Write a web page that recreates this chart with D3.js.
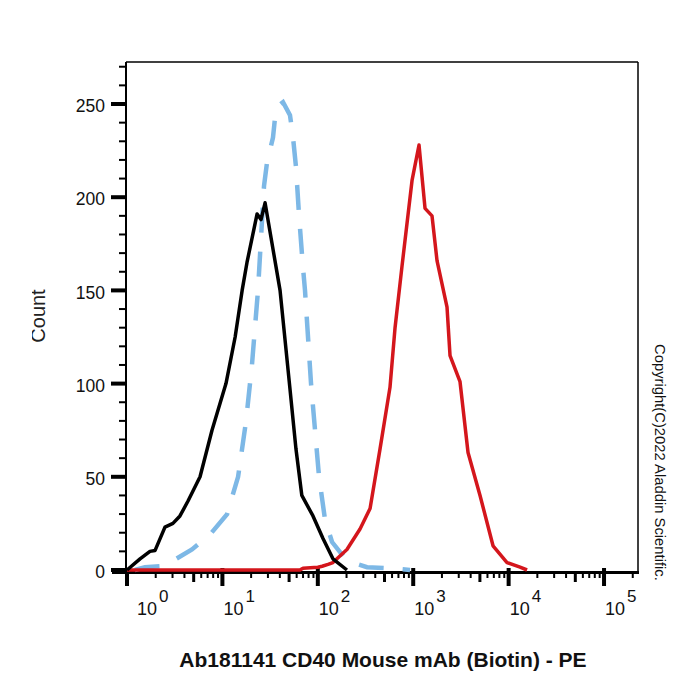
<!DOCTYPE html>
<html>
<head>
<meta charset="utf-8">
<script src="https://cdn.jsdelivr.net/npm/d3@7"></script>
<style>
  body { margin: 0; background: #fff; }
  svg { font-family: "Liberation Sans", Arial, sans-serif; }
</style>
</head>
<body>
<div id="chart"></div>
<script>
// histogram points: PE intensity and event count

// black solid line
const controlX = [1, 1.37, 1.74, 1.97, 2.5, 3.03, 3.59, 4.36, 5.83, 7.78, 10.9, 13.6, 16.1, 18.1, 23.1, 25.4, 28, 40.2, 51.1, 59, 68, 89, 113, 144, 202];
const controlCount = [0, 6, 10, 10.5, 23, 25, 29, 37, 50, 75, 100, 125, 150, 165, 191, 188, 197, 150, 97, 65, 40, 29, 17, 6, 0];

// light blue dashed line
const blankX = [1.21, 1.54, 2.22, 3.04, 4.8, 7.41, 11.2, 14.6, 17.7, 20.4, 23.6, 27.3, 29.4, 33.9, 36.5, 43.2, 51.1, 55, 59.1, 63.6, 70, 73.4, 84.9, 103, 119, 141, 202, 328, 571, 926];
const blankCount = [0, 1.5, 2, 5, 11, 19, 30, 50, 80, 110, 150, 206, 219, 232, 248, 251, 244, 232, 216, 190, 162, 150, 100, 50, 27, 15, 5, 1.5, 1, 0];

// red line, CD40 stained
const cd40X = [1, 65, 70, 100, 111, 128, 144, 202, 277, 353, 449, 571, 645, 763, 972, 1150, 1330, 1574, 1776, 2261, 2431, 3094, 3753, 5015, 6863, 9620, 13170, 15600];
const cd40Count = [0, 0, 1, 1.5, 2, 3, 4, 11, 22, 33, 65, 98, 130, 163, 209, 228, 194, 190, 166, 141, 115, 101, 63, 40, 13, 4, 1.5, 0];

// axis ticks
const xMajor = [1, 10, 100, 1000, 10000, 100000];
const yMajor = [0, 50, 100, 150, 200, 250];

const width = 700, height = 700;
const svg = d3.select('#chart').append('svg')
    .attr('width', width)
    .attr('height', height);

svg.append('rect').attr('width', width).attr('height', height).attr('fill', '#fff');

// scales
const x = d3.scaleLog().domain([1, 227000]).range([127, 638]);
const y = d3.scaleLinear().domain([0, 272]).range([570, 63]);

// minor ticks
const xMinor = [];
xMajor.forEach(d => {
    for (let m = 2; m <= 9; m++) {
        if (d * m <= x.domain()[1]) xMinor.push(d * m);
    }
});
const yMinor = d3.range(10, 271, 10).filter(v => v % 50 !== 0);

// frame
svg.append('line')
    .attr('x1', 126).attr('x2', 638).attr('y1', 62).attr('y2', 62)
    .attr('stroke', '#000').attr('stroke-width', 1.5);
svg.append('line')
    .attr('x1', 638).attr('x2', 638).attr('y1', 62).attr('y2', 573)
    .attr('stroke', '#000').attr('stroke-width', 1.5);

// axis lines
svg.append('line')
    .attr('x1', 112).attr('x2', 639).attr('y1', 572.5).attr('y2', 572.5)
    .attr('stroke', '#000').attr('stroke-width', 3);
svg.append('line')
    .attr('x1', 126).attr('x2', 126).attr('y1', 62).attr('y2', 586)
    .attr('stroke', '#000').attr('stroke-width', 2);

// x ticks
const fives = d => Math.round(d / Math.pow(10, Math.floor(Math.log10(d) + 1e-9))) === 5;
svg.append('g').selectAll('line')
    .data(xMinor)
    .join('line')
    .attr('x1', d => x(d)).attr('x2', d => x(d))
    .attr('y1', 572)
    .attr('y2', d => fives(d) ? 582 : 578)
    .attr('stroke', '#000')
    .attr('stroke-width', d => fives(d) ? 3 : 2);
svg.append('g').selectAll('line')
    .data(xMajor)
    .join('line')
    .attr('x1', d => x(d)).attr('x2', d => x(d))
    .attr('y1', 568).attr('y2', 586)
    .attr('stroke', '#000')
    .attr('stroke-width', 4);

// x tick labels 10^n
const xLab = svg.append('g').selectAll('text')
    .data(xMajor)
    .join('text')
    .attr('x', (d, i) => x(d) + (i === 0 ? 10 : 1))
    .attr('y', 615)
    .attr('font-size', 18)
    .attr('fill', '#111');
xLab.append('tspan').text('10');
xLab.append('tspan')
    .attr('dx', 2).attr('dy', -13)
    .attr('font-size', 17)
    .text(d => Math.round(Math.log10(d)));

// y ticks
svg.append('g').selectAll('line')
    .data(yMinor)
    .join('line')
    .attr('x1', 119).attr('x2', 126)
    .attr('y1', d => y(d)).attr('y2', d => y(d))
    .attr('stroke', '#000').attr('stroke-width', 2);
svg.append('g').selectAll('line')
    .data(yMajor)
    .join('line')
    .attr('x1', 111).attr('x2', 127)
    .attr('y1', d => y(d)).attr('y2', d => y(d))
    .attr('stroke', '#000').attr('stroke-width', 4);
svg.append('g').selectAll('text')
    .data(yMajor)
    .join('text')
    .attr('x', 105)
    .attr('y', d => y(d) + 2)
    .attr('dy', '0.35em')
    .attr('text-anchor', 'end')
    .attr('font-size', 17.5)
    .attr('fill', '#111')
    .text(d => d);

// curves
const line = d3.line()
    .x(d => x(d[0]))
    .y(d => y(d[1]));

svg.append('path')
    .datum(d3.zip(blankX, blankCount))
    .attr('d', line)
    .attr('fill', 'none')
    .attr('stroke', '#7db8e6')
    .attr('stroke-width', 4.5)
    .attr('stroke-dasharray', '25,19');

svg.append('path')
    .datum(d3.zip(cd40X, cd40Count))
    .attr('d', line)
    .attr('fill', 'none')
    .attr('stroke', '#d4161c')
    .attr('stroke-width', 3.5)
    .attr('stroke-linejoin', 'round');

svg.append('path')
    .datum(d3.zip(controlX, controlCount))
    .attr('d', line)
    .attr('fill', 'none')
    .attr('stroke', '#000')
    .attr('stroke-width', 3.5)
    .attr('stroke-linejoin', 'round');

// labels
svg.append('clipPath').attr('id', 'countClip')
    .append('rect').attr('x', 32).attr('y', 0).attr('width', 80).attr('height', height);
svg.append('g')
    .attr('clip-path', 'url(#countClip)')
    .append('text')
    .attr('transform', 'translate(45,316) rotate(-90)')
    .attr('text-anchor', 'middle')
    .attr('font-size', 20)
    .attr('fill', '#222')
    .text('Count');

svg.append('text')
    .attr('x', 383)
    .attr('y', 667)
    .attr('text-anchor', 'middle')
    .attr('font-size', 21)
    .attr('font-weight', 'bold')
    .attr('fill', '#111')
    .text('Ab181141 CD40 Mouse mAb (Biotin) - PE');

svg.append('text')
    .attr('transform', 'translate(655,344) rotate(90)')
    .attr('font-size', 14.8)
    .attr('fill', '#111')
    .text('Copyright(C)2022 Aladdin Scientific.');
</script>
</body>
</html>
